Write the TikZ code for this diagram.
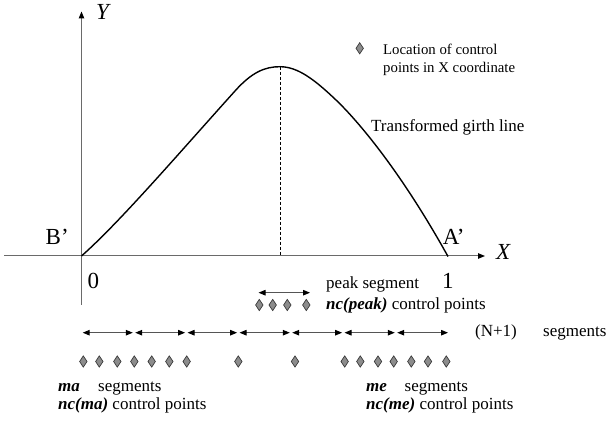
\documentclass[tikz,border=0pt]{standalone}
\usepackage{fontspec}
\setmainfont{Liberation Serif}
\usetikzlibrary{arrows.meta}
\definecolor{axgray}{HTML}{6A6A6A}
\definecolor{dfill}{HTML}{8C8C8C}
\definecolor{dedge}{HTML}{3A3A3A}
\definecolor{seggray}{HTML}{555555}
\newcommand\fbig{\fontsize{23}{26}\selectfont}
\newcommand\fmid{\fontsize{17}{20}\selectfont}
\newcommand\fsml{\fontsize{14.8}{17}\selectfont}
\tikzset{
  dmd/.pic={\path[fill=dfill,draw=dedge,line width=0.7pt] (0,-5.6) -- (3.7,0) -- (0,5.6) -- (-3.7,0) -- cycle;},
  axis/.style={draw=axgray,line width=1pt,-{Triangle[length=7pt,width=5.5pt,color=black]}},
  curve/.style={draw=black,line width=1.4pt,line join=round},
  peakline/.style={draw=black,line width=0.6pt,dash pattern=on 3pt off 2pt},
  segarrow/.style={draw=seggray,line width=1pt,{Triangle[length=7pt,width=5.5pt,color=black]}-{Triangle[length=7pt,width=5.5pt,color=black]}},
  lbl/.style={anchor=base west,inner sep=0pt,text=black}
}
\begin{document}
\begin{tikzpicture}[x=1pt,y=-1pt]
\useasboundingbox (0,0) rectangle (606,422);
% axes
\coordinate (xs) at (4,256);
\coordinate (xe) at (485,256);
\coordinate (yb) at (81.5,305);
\coordinate (ye) at (81.5,11.5);
\draw[axis] (xs) -- (xe);
\draw[axis] (yb) -- (ye);
\node[lbl,font=\fbig\itshape] (xl) at (496,260) {X};
\node[lbl,font=\fbig\itshape] (yl) at (96,19.5) {Y};
\node[lbl,font=\fbig] (bp) at (45.5,245) {B’};
\node[lbl,font=\fbig] (ap) at (442.6,245) {A’};
\node[lbl,font=\fbig] (zero) at (87.5,289) {0};
\node[lbl,font=\fbig] (one) at (442,288.5) {1};
% curve
\coordinate (o) at (81.5,256);
\coordinate (pk) at (280,66.7);
\coordinate (ae) at (448,256.5);
\draw[curve] (o) .. controls (120,222) and (180,152) .. (235,91)
  .. controls (252,72) and (265,66.7) .. (pk)
  .. controls (298,66.7) and (315,80) .. (336,100)
  .. controls (357,120) and (400,170) .. (ae);
\coordinate (pkb) at (280,256);
\draw[peakline] (pk) -- (pkb);
% legend
\pic at (359.7,48.3) {dmd};
\node[lbl,font=\fsml] (loc1) at (383,55) {Location of control};
\node[lbl,font=\fsml] (loc2) at (383,72.7) {points in X coordinate};
\node[lbl,font=\fmid] (tgl) at (371,131.7) {Transformed girth line};
% peak segment
\coordinate (pa) at (258.5,292.7);
\coordinate (pb) at (310,292.7);
\draw[segarrow] (pa) -- (pb);
\node[lbl,font=\fmid] (pseg) at (326,288.3) {peak segment};
\foreach \x in {259.3,272.7,287.3,306.3} \pic at (\x,305) {dmd};
\node[lbl,font=\fmid] (ncp) at (326,309.3) {\textbf{\textit{nc(peak)}} control points};
% N+1 segments
\coordinate (b0) at (81.5,332.7);
\coordinate (b1) at (134,332.7);
\coordinate (b2) at (186.3,332.7);
\coordinate (b3) at (238.3,332.7);
\coordinate (b4) at (291,332.7);
\coordinate (b5) at (343.3,332.7);
\coordinate (b6) at (396,332.7);
\coordinate (b7) at (449.2,332.7);
\foreach \i/\j in {0/1,1/2,2/3,3/4,4/5,5/6,6/7}
  \draw[segarrow] ([xshift=1.2pt]b\i) -- ([xshift=-1.2pt]b\j);
\node[lbl,font=\fmid] (np1) at (475,336.7) {(N+1)};
\node[lbl,font=\fmid] (segs) at (543,336.7) {segments};
% control point row
\foreach \x in {83.3,99.3,117.3,134.3,151.7,169.3,186.7,238.3,295,344.7,360.3,378,393.7,411.3,428,446.3}
  \pic at (\x,361.5) {dmd};
% bottom texts
\node[lbl,font=\fmid] (ma) at (58,391.7) {\textbf{\textit{ma}}};
\node[lbl,font=\fmid] (mas) at (98,391.7) {segments};
\node[lbl,font=\fmid] (ncma) at (58,409.5) {\textbf{\textit{nc(ma)}} control points};
\node[lbl,font=\fmid] (me) at (366,391.7) {\textbf{\textit{me}}};
\node[lbl,font=\fmid] (mes) at (404.5,391.7) {segments};
\node[lbl,font=\fmid] (ncme) at (366,409.5) {\textbf{\textit{nc(me)}} control points};
\end{tikzpicture}
\end{document}
